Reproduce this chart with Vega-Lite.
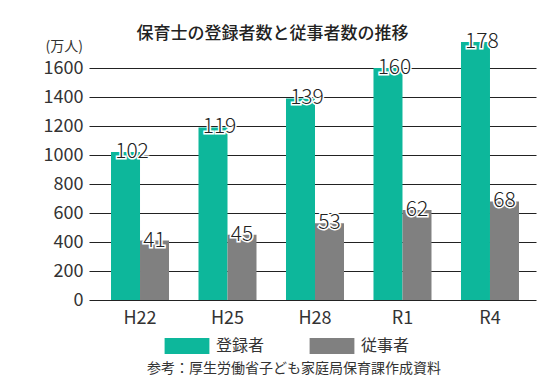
{
  "$schema": "https://vega.github.io/schema/vega-lite/v6.json",
  "autosize": {"type": "none"},
  "width": 447,
  "height": 261,
  "padding": {"left": 89, "top": 39, "right": 14, "bottom": 82},
  "background": "white",
  "title": {
    "text": "保育士の登録者数と従事者数の推移",
    "font": "Noto Sans CJK JP",
    "fontSize": 17,
    "fontWeight": 500,
    "color": "#222",
    "anchor": "middle",
    "frame": "group",
    "dx": -40,
    "offset": 0,
    "baseline": "alphabetic",
    "dy": 25
  },
  "config": {
    "view": {"stroke": null},
    "font": "Noto Sans CJK JP"
  },
  "data": {
    "values": [
      {"year": "H22", "series": "登録者", "value": 102},
      {"year": "H22", "series": "従事者", "value": 41},
      {"year": "H25", "series": "登録者", "value": 119},
      {"year": "H25", "series": "従事者", "value": 45},
      {"year": "H28", "series": "登録者", "value": 139},
      {"year": "H28", "series": "従事者", "value": 53},
      {"year": "R1", "series": "登録者", "value": 160},
      {"year": "R1", "series": "従事者", "value": 62},
      {"year": "R4", "series": "登録者", "value": 178},
      {"year": "R4", "series": "従事者", "value": 68}
    ]
  },
  "encoding": {
    "x": {
      "field": "year",
      "type": "nominal",
      "sort": ["H22", "H25", "H28", "R1", "R4"],
      "scale": {"paddingInner": 0.337, "paddingOuter": 0.223, "align": 0.564},
      "axis": {
        "title": null,
        "labelAngle": 0,
        "labelFontSize": 18,
        "labelColor": "#333",
        "labelPadding": 9,
        "ticks": false,
        "domain": false,
        "grid": false
      }
    },
    "xOffset": {"field": "series", "type": "nominal", "sort": ["登録者", "従事者"]},
    "y": {
      "field": "value",
      "type": "quantitative",
      "scale": {"domain": [0, 180], "nice": false},
      "axis": {
        "values": [0, 20, 40, 60, 80, 100, 120, 140, 160],
        "labelExpr": "datum.value * 10",
        "labelFontSize": 18,
        "labelColor": "#333",
        "labelPadding": 6,
        "ticks": false,
        "domain": false,
        "grid": true,
        "gridColor": "#222",
        "gridWidth": 1.2,
        "title": "(万人)",
        "titleAngle": 0,
        "titleFontSize": 14,
        "titleFontWeight": "normal",
        "titleColor": "#333",
        "titleAlign": "left",
        "titleBaseline": "middle",
        "titleX": -44,
        "titleY": 7
      }
    }
  },
  "layer": [
    {
      "mark": {"type": "bar"},
      "encoding": {
        "color": {
          "field": "series",
          "type": "nominal",
          "sort": ["登録者", "従事者"],
          "scale": {"domain": ["登録者", "従事者"], "range": ["#0db79b", "#808080"]},
          "legend": {
            "orient": "none",
            "legendX": 58,
            "legendY": 299,
            "direction": "horizontal",
            "title": "参考：厚生労働省子ども家庭局保育課作成資料",
            "titleOrient": "bottom",
            "titleAnchor": "middle",
            "titleFontSize": 14,
            "titleFontWeight": "normal",
            "titleColor": "#333",
            "titlePadding": 8,
            "titleLimit": 500,
            "symbolType": "M-2.8,-1H2.8V1H-2.8Z",
            "symbolSize": 256,
            "symbolStrokeWidth": 0,
            "symbolOpacity": 1,
            "labelFontSize": 16,
            "labelColor": "#333",
            "labelOffset": 21,
            "columnPadding": 44,
            "padding": 0
          }
        }
      }
    },
    {
      "transform": [{"filter": "datum.series === '登録者'"}],
      "mark": {"type": "text", "baseline": "middle", "fontSize": 21, "fontWeight": 300, "dx": 6.5, "stroke": "white", "strokeWidth": 3, "fill": "white"},
      "encoding": {"text": {"field": "value", "type": "quantitative"}}
    },
    {
      "transform": [{"filter": "datum.series === '登録者'"}],
      "mark": {"type": "text", "baseline": "middle", "fontSize": 21, "fontWeight": 300, "dx": 6.5, "color": "#222"},
      "encoding": {"text": {"field": "value", "type": "quantitative"}}
    },
    {
      "transform": [{"filter": "datum.series === '従事者'"}],
      "mark": {"type": "text", "baseline": "middle", "fontSize": 21, "fontWeight": 300, "stroke": "white", "strokeWidth": 3, "fill": "white"},
      "encoding": {"text": {"field": "value", "type": "quantitative"}}
    },
    {
      "transform": [{"filter": "datum.series === '従事者'"}],
      "mark": {"type": "text", "baseline": "middle", "fontSize": 21, "fontWeight": 300, "color": "#222"},
      "encoding": {"text": {"field": "value", "type": "quantitative"}}
    }
  ]
}
